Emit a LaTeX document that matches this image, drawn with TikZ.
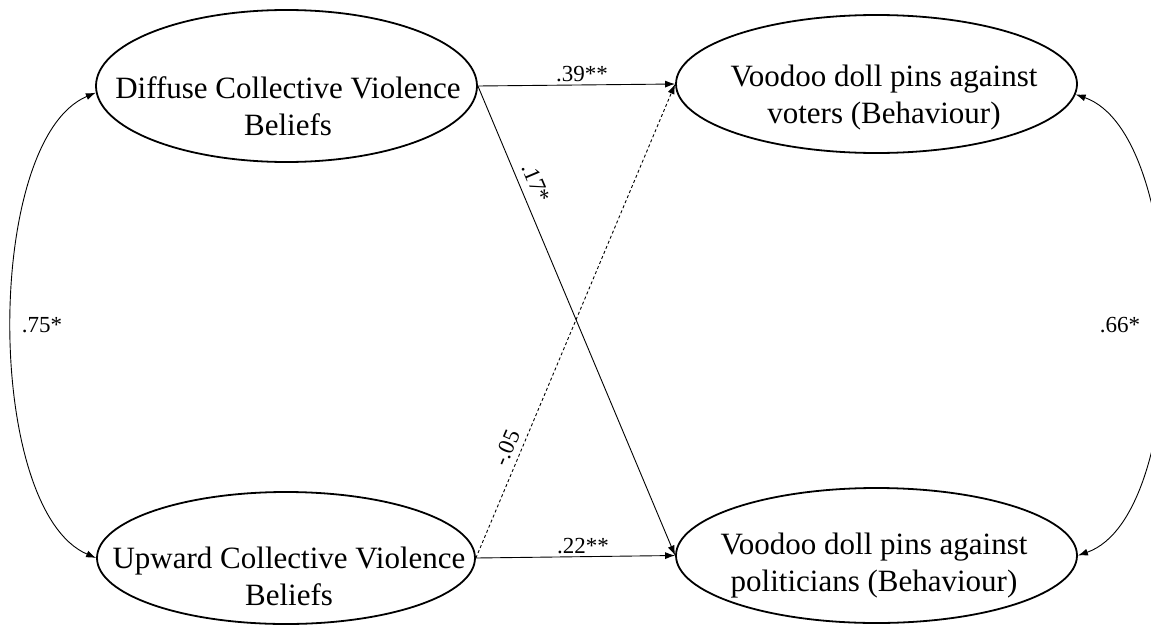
\documentclass[tikz,border=0pt]{standalone}
\usepackage{fontspec}
\setmainfont{Liberation Serif}
\usetikzlibrary{shapes.geometric,arrows.meta}
\begin{document}
\begin{tikzpicture}[x=1pt,y=-1pt,
  latent/.style={draw, ellipse, line width=1.8pt, inner sep=0pt},
  boxtext/.style={align=center, font=\fontsize{31}{37}\selectfont, inner sep=0pt, anchor=base},
  coef/.style={font=\fontsize{23}{27}\selectfont, inner sep=2pt},
  regpath/.style={line width=0.9pt, -{Latex[length=10pt,width=7pt]}},
  covpath/.style={line width=0.9pt, {Latex[length=10pt,width=7pt]}-{Latex[length=10pt,width=7pt]}},
  nspath/.style={regpath, dash pattern=on 3pt off 2.5pt}
]
\useasboundingbox (0,0) rectangle (1151,624);
\clip (0,0) rectangle (1151,624);

% latent ellipses
\node[latent, minimum width=381pt, minimum height=152pt] (dl) at (286.5,86) {};
\node[latent, minimum width=401pt, minimum height=138pt] (vv) at (876.5,84) {};
\node[latent, minimum width=378pt, minimum height=132pt] (ul) at (286,558) {};
\node[latent, minimum width=401pt, minimum height=135pt] (vp) at (876.5,555.5) {};

% texts (anchor base = baseline of the last line)
\node[boxtext] (dlt) at (288,135) {Diffuse Collective Violence\\Beliefs};
\node[boxtext] (vvt) at (884,123) {Voodoo doll pins against\\voters (Behaviour)};
\node[boxtext] (ult) at (289,605) {Upward Collective Violence\\Beliefs};
\node[boxtext] (vpt) at (874,591) {Voodoo doll pins against\\politicians (Behaviour)};

% regression paths
\draw[regpath] (dl.east) -- (vv.west);
\draw[regpath] (dl.east) -- (vp.west);
\draw[nspath] (ul.east) -- (vv.west);
\draw[regpath] (ul.east) -- (vp.west);

\node[coef, anchor=base] (l39) at (582,81) {.39**};
\node[coef, anchor=base] (l22) at (583,553) {.22**};
\node[coef, rotate=-67.1] (l17) at (536,183) {.17*};
\node[coef, rotate=67] (l05) at (506.5,448) {-.05};

% covariances
\draw[covpath] (dl.182) .. controls +(-112,47) and +(-112,-48) .. (ul.west);
\draw[covpath] (vv.357.5) .. controls +(115,40) and +(115,-40) .. (vp.east);
\node[coef, anchor=base] (l75) at (42,332) {.75*};
\node[coef, anchor=base] (l66) at (1120,332) {.66*};
\end{tikzpicture}
\end{document}
